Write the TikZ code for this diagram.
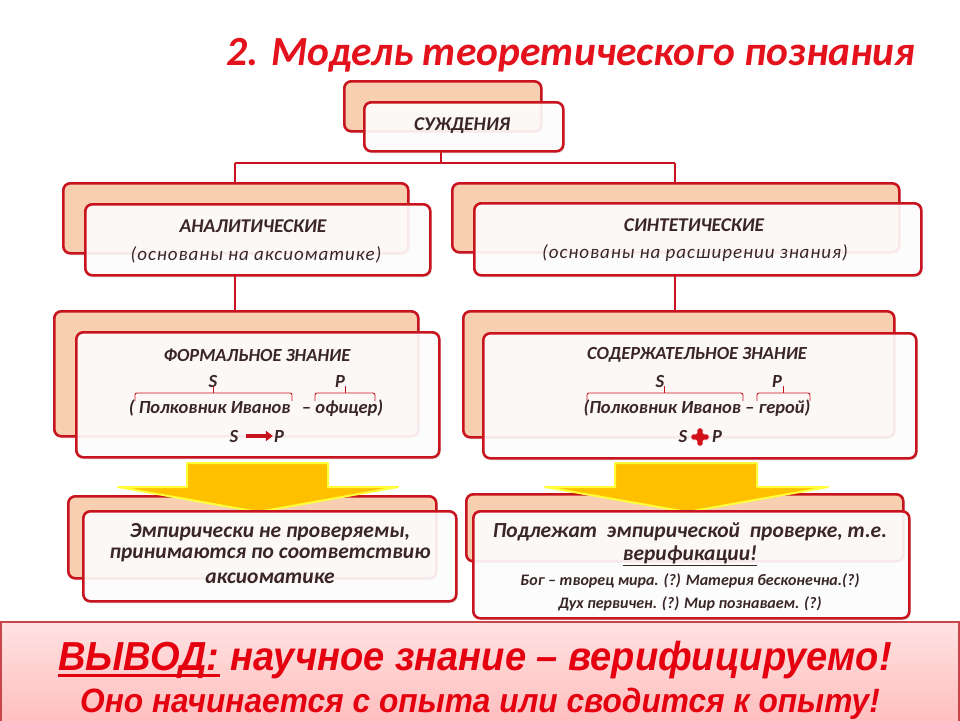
\documentclass[tikz,border=0pt]{standalone}
\usepackage{fontspec}
\setmainfont{Carlito}
\newfontfamily\banfont[FakeStretch=0.94]{Liberation Sans}
\usetikzlibrary{shadows,arrows.meta}
\newcommand\thickul[1]{\leavevmode\setbox0\hbox{#1}\rlap{\raisebox{-6.5pt}{\rule{\wd0}{2.6pt}}}\box0\relax}
\definecolor{bred}{HTML}{C8141E}
\definecolor{peach}{HTML}{F9CFB2}
\definecolor{txt}{HTML}{3A2626}
\definecolor{ttl}{HTML}{E4121C}
\definecolor{gold}{HTML}{FFC000}
\definecolor{yel}{HTML}{FFFF3A}
\definecolor{bantop}{HTML}{FFE2E2}
\definecolor{banbot}{HTML}{FFBFBF}
\definecolor{banred}{HTML}{E4000E}
\definecolor{banedge}{HTML}{C8464A}
\begin{document}
\begin{tikzpicture}[x=1pt,y=-1pt,
  boxbase/.style={draw=bred, line width=2.6pt, rounded corners=7pt, inner sep=0pt, anchor=north west,
    drop shadow={shadow xshift=1.5pt, shadow yshift=-2pt, opacity=0.18}},
  backbox/.style={boxbase, fill=peach},
  frontbox/.style={boxbase, fill=white, fill opacity=0.9},
  conn/.style={draw=bred, line width=2.4pt},
  capt/.style={text=txt, font=\fontsize{19.5}{22}\selectfont\bfseries\itshape, inner sep=0pt},
  paren/.style={text=txt, font=\fontsize{19}{22}\selectfont\itshape\addfontfeatures{LetterSpace=5}, inner sep=0pt},
  midt/.style={text=txt, font=\fontsize{18.5}{21}\selectfont\bfseries\itshape, inner sep=0pt},
  bigt/.style={text=txt, font=\fontsize{21.5}{24}\selectfont\bfseries\itshape, inner sep=0pt},
  smallt/.style={text=txt, font=\fontsize{16}{18}\selectfont\bfseries\itshape, inner sep=0pt},
  brace/.style={draw=bred, line width=0.9pt, rounded corners=2pt},
  yarrow/.style={fill=gold, draw=yel, line width=2pt, line join=round},
  bantext/.style={text=banred, inner sep=0pt, anchor=base},
]
\useasboundingbox (0,0) rectangle (960,720);
\fill[white] (0,0) rectangle (960,720);

% title
\node[text=ttl, font=\fontsize{41.5}{46}\selectfont\bfseries\itshape, inner sep=0pt] (title) at (571,55) {2. Модель теоретического познания};

% connectors
\coordinate (j) at (441,163);
\coordinate (sudbot) at (441,150);
\coordinate (jl) at (235,163);
\coordinate (jr) at (675,163);
\draw[conn] (sudbot) -- (j);
\draw[conn] (jl) -- (jr);
\draw[conn] (jl) -- (235,183);
\draw[conn] (jr) -- (675,183);
\draw[conn] (235,274) -- (235,311);
\draw[conn] (675,274) -- (675,311);

% СУЖДЕНИЯ
\node[backbox, minimum width=197pt, minimum height=50pt] (sudB) at (343,80) {};
\node[frontbox, minimum width=199pt, minimum height=49pt] (sudF) at (363,101) {};
\node[capt] (sudT) at (462,126) {СУЖДЕНИЯ};

% АНАЛИТИЧЕСКИЕ
\node[backbox, minimum width=345pt, minimum height=70pt] (anB) at (62,182) {};
\node[frontbox, minimum width=345pt, minimum height=71pt] (anF) at (84,203) {};
\node[capt] (anT1) at (253,226) {АНАЛИТИЧЕСКИЕ};
\node[paren] (anT2) at (256,255) {(основаны на аксиоматике)};

% СИНТЕТИЧЕСКИЕ
\node[backbox, minimum width=447pt, minimum height=69pt] (siB) at (451,182) {};
\node[frontbox, minimum width=447pt, minimum height=72pt] (siF) at (473,202) {};
\node[capt] (siT1) at (694,225) {СИНТЕТИЧЕСКИЕ};
\node[paren] (siT2) at (695,253) {(основаны на расширении знания)};

% ФОРМАЛЬНОЕ
\node[backbox, minimum width=364pt, minimum height=125pt] (foB) at (53,310) {};
\node[frontbox, minimum width=363pt, minimum height=125pt] (foF) at (75,331) {};
\node[midt] (foT) at (257,355) {ФОРМАЛЬНОЕ ЗНАНИЕ};
\node[midt] (foS) at (213,381) {S};
\node[midt] (foP) at (340,381) {P};
\draw[brace] (135,401) |- (292,393) -- (292,401);
\draw[brace] (213,393) -- (213,386);
\draw[brace] (315,401) |- (375,393) -- (375,401);
\draw[brace] (345,393) -- (345,386);
\node[midt] (foL) at (256,408) {( Полковник Иванов\, \ – офицер)};
\node[midt] (foS2) at (234,436) {S};
\node[midt] (foP2) at (279,436) {P};
\draw[bred, line width=4pt, -{Triangle[length=7pt,width=10pt]}] ([xshift=7pt]foS2.east) -- ([xshift=-1pt]foP2.west);

% СОДЕРЖАТЕЛЬНОЕ
\node[backbox, minimum width=431pt, minimum height=126pt] (coB) at (462,310) {};
\node[frontbox, minimum width=433pt, minimum height=125pt] (coF) at (482,332) {};
\node[midt] (coT) at (697,355) {СОДЕРЖАТЕЛЬНОЕ ЗНАНИЕ};
\node[midt] (coS) at (660,381) {S};
\node[midt] (coP) at (777,381) {P};
\draw[brace] (587,401) |- (743,393) -- (743,401);
\draw[brace] (664,393) -- (664,386);
\draw[brace] (757,401) |- (810,393) -- (810,401);
\draw[brace] (783,393) -- (783,386);
\node[midt] (coL) at (697,408) {(Полковник Иванов – герой)};
\node[midt] (coS2) at (683,436) {S};
\node[midt] (coP2) at (717,436) {P};
\coordinate (plus) at (700,437);
\fill[draw=white, line width=0.8pt, fill=bred!85!red, rounded corners=1.5pt]
  ([xshift=-3pt,yshift=9pt]plus) -- ([xshift=3pt,yshift=9pt]plus) -- ([xshift=3pt,yshift=3pt]plus)
  -- ([xshift=9pt,yshift=3pt]plus) -- ([xshift=9pt,yshift=-3pt]plus) -- ([xshift=3pt,yshift=-3pt]plus)
  -- ([xshift=3pt,yshift=-9pt]plus) -- ([xshift=-3pt,yshift=-9pt]plus) -- ([xshift=-3pt,yshift=-3pt]plus)
  -- ([xshift=-9pt,yshift=-3pt]plus) -- ([xshift=-9pt,yshift=3pt]plus) -- ([xshift=-3pt,yshift=3pt]plus) -- cycle;

% bottom left
\node[backbox, minimum width=368pt, minimum height=82pt] (emB) at (67,495) {};
\draw[yarrow] (187,463) -- (328,463) -- (328,487) -- (398,487) -- (258,512) -- (118,487) -- (187,487) -- cycle;
\node[frontbox, minimum width=373pt, minimum height=90pt] (emF) at (82,510) {};
\node[bigt] (emT1) at (270,532) {Эмпирически не проверяемы,};
\node[bigt] (emT2) at (270,555) {принимаются по соответствию};
\node[bigt] (emT3) at (270,578) {аксиоматике};

% bottom right
\node[backbox, minimum width=437pt, minimum height=67pt] (veB) at (465,493) {};
\draw[yarrow] (615,463) -- (757,463) -- (757,487) -- (828,487) -- (687,512) -- (545,487) -- (615,487) -- cycle;
\node[frontbox, minimum width=436pt, minimum height=107pt] (veF) at (472,510) {};
\node[bigt] (veT1) at (690,532) {Подлежат\ \ эмпирической\ \ проверке, т.е.};
\node[bigt] (veT2) at (690,556) {\underline{верификации!}};
\node[smallt] (veT3) at (690,581) {Бог – творец мира. (?) Материя бесконечна.(?)};
\node[smallt] (veT4) at (690,604) {Дух первичен. (?) Мир познаваем. (?)};

% banner
\shade[top color=bantop, bottom color=banbot] (0,621) rectangle (960,720);
\draw[draw=banedge, line width=1.4pt] (1,721) -- (1,622) -- (959,622) -- (959,721);
\node[bantext, font=\banfont\fontsize{40.5}{44}\selectfont\bfseries\itshape] (ban1) at (475,670)
  {\thickul{ВЫВОД:}\ научное знание – верифицируемо!};
\node[bantext, font=\banfont\fontsize{33.7}{38}\selectfont\bfseries\itshape] (ban2) at (480,712)
  {Оно начинается с опыта или сводится к опыту!};
\end{tikzpicture}
\end{document}
